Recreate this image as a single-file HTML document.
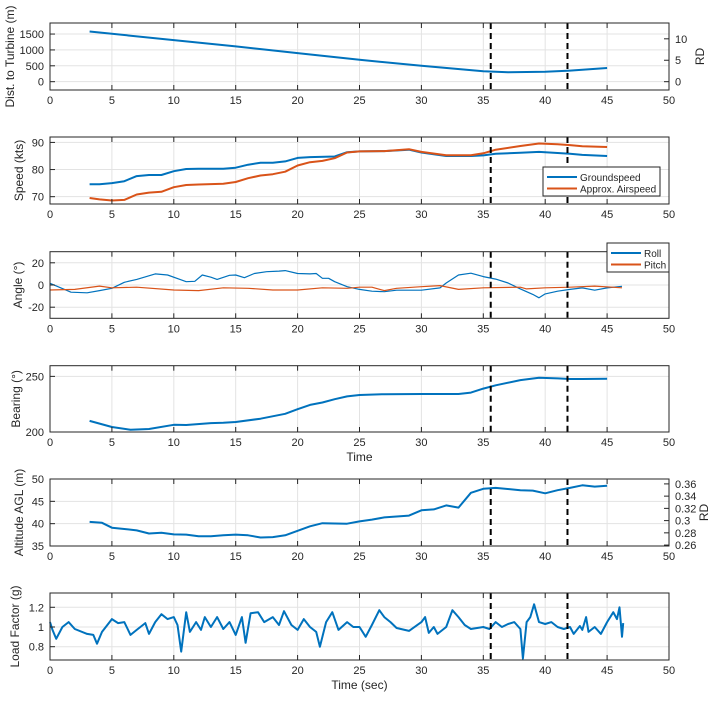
<!DOCTYPE html>
<html><head><meta charset="utf-8">
<style>
body{margin:0;background:#fff;}
svg{display:block;font-family:"Liberation Sans",sans-serif;}
</style></head>
<body>
<svg id="fig" width="718" height="701" viewBox="0 0 718 701" xmlns="http://www.w3.org/2000/svg"></svg>
<script>
const xTicks=[0,5,10,15,20,25,30,35,40,45,50];
const markerTimes=[35.6,41.8];
// Distance
const distT=[3.2,10,15,20,25,30,35,37,40,42,45];
const distV=[1580,1310,1110,900,690,500,330,300,310,350,430];
// Speed
const gsT=[3.2,4,5,6,7,8,9,10,11,12,14,15,16,17,18,19,20,21,23,24,25,27,29,30,32,34,35,36,38,39.5,41,42,43,45];
const gsV=[74.6,74.6,75,75.7,77.6,78,78,79.4,80.2,80.3,80.3,80.7,81.8,82.5,82.5,83,84.3,84.6,84.8,86.4,86.7,86.8,87.3,86.3,85,85,85.2,85.8,86.2,86.5,86.1,85.8,85.4,85.0];
const asT=[3.2,4,5,6,7,8,9,10,11,12,14,15,16,17,18,19,20,21,22,23,24,25,27,29,30,32,34,35,36,38,39.5,41,42,43,45];
const asV=[69.5,69,68.6,68.8,70.8,71.5,71.8,73.5,74.3,74.5,74.8,75.4,76.8,77.8,78.3,79.2,81.5,82.7,83.2,84.2,86.3,86.7,86.8,87.5,86.5,85.3,85.3,86,87.3,88.7,89.6,89.3,89,88.6,88.3];
// Angles
const rollT=[0,1.7,3,4,5,6,7,8.5,9.5,10.5,11,11.7,12.3,13,13.5,14.5,15,15.7,16.5,17.5,18.5,19,20,21,21.5,22,22.5,23,24,25,26,27,28,30,31.5,32,33,34,35,36,37,38,39,39.5,40,41,42,43,44,45,46.2];
const rollV=[1.5,-6.5,-7,-5,-3,2.4,5,10,9,5,3,3.3,9,7,5,8.7,9,6.6,10.4,12,12.5,13,10.4,10,10.4,6,6,3,-1.5,-4,-5.6,-6,-4.7,-4.7,-2.6,1.8,9,10.6,7.6,5.3,1.8,-3.5,-8.5,-11.5,-8,-5.6,-4,-2.6,-4.7,-2.6,-1.2];
const pitchT=[0,2,4,5,7,10,12,14,16,18,20,22,24,25,26,27,28,30,31.5,33,35,38,38.5,40,42,44,46.2];
const pitchV=[-4.5,-4,-1,-2.5,-2,-4.5,-5,-2.5,-3,-4.5,-4.5,-2.5,-3,-2,-2,-5,-3,-1.5,-0.5,-4,-2.5,-2,-3.5,-2.5,-2,-1,-2.5];
// Bearing
const brgT=[3.2,5,6.5,8,10,11,13,14,15,17,19,20,21,22,23,24,25,27,30,33,34,35,36,38,39.5,41,42,43,45];
const brgV=[210,204.5,202,202.7,206.5,206.3,208,208.3,209,212,216.4,220.5,224.4,226.5,229.5,232,233.3,234,234.2,234.2,235.4,239,242,246.7,248.8,248.2,247.6,247.6,247.9];
// Altitude
const altT=[3.2,4.2,5,6,7,8,9,10,11,12,13,14,15,16,17,18,19,20,21,22,24,25,26,27,29,30,31,32,33,34,35,36,38,39,40,41,42,43,44,45];
const altV=[40.4,40.2,39.1,38.8,38.5,37.8,37.95,37.6,37.55,37.2,37.2,37.4,37.55,37.4,36.9,37,37.4,38.4,39.4,40.1,40,40.5,40.9,41.4,41.8,43,43.2,44.1,43.6,46.9,47.8,48,47.5,47.4,46.8,47.5,48,48.6,48.3,48.5];
// Load factor
const nzT=[0,0.2,0.5,1,1.5,2,3,3.5,3.8,4.2,5,5.5,6,6.5,7,7.7,8,8.5,9,9.5,10,10.3,10.6,11,11.3,11.8,12.2,12.5,13,13.5,14,14.5,15,15.5,15.8,16.2,16.8,17.3,18,18.5,18.9,19.5,20,20.5,21,21.5,21.8,22.3,22.8,23.3,24,24.5,25,25.5,26,26.6,27,27.5,28,29,30,30.3,30.6,31,31.3,32,32.5,33,33.5,34,35,35.5,36,36.5,37,37.5,38,38.2,38.5,38.8,39.1,39.5,40,40.5,41,41.5,42,42.3,42.8,43,43.3,43.5,44,44.5,45,45.5,45.8,46,46.2,46.3];
const nzV=[1.05,0.97,0.88,1.0,1.05,0.98,0.93,0.92,0.83,0.95,1.08,1.04,1.05,0.92,0.97,1.04,0.93,1.05,1.13,1.08,1.1,1.02,0.75,1.15,0.95,1.05,0.97,1.1,1.0,1.1,0.98,1.05,0.92,1.1,0.84,1.14,1.15,1.05,1.1,1.02,1.16,1.02,0.97,1.08,1.0,0.95,0.8,1.05,1.15,0.97,1.05,1.0,1.0,0.9,1.02,1.17,1.1,1.05,0.99,0.96,1.05,1.1,0.94,1.0,0.93,1.0,1.17,1.1,1.02,0.98,1.0,0.98,1.05,1.0,1.03,1.05,0.98,0.68,1.05,1.1,1.23,1.05,1.03,1.05,1.0,0.98,1.0,0.93,1.01,0.97,1.1,0.95,1.0,0.93,1.05,1.15,1.08,1.2,0.9,1.04];

const NS="http://www.w3.org/2000/svg";
const svg=document.getElementById('fig');
const X0=50,X1=669;
function el(tag,attrs,parent){const e=document.createElementNS(NS,tag);for(const k in attrs)e.setAttribute(k,attrs[k]);(parent||svg).appendChild(e);return e;}
function sx(t){return X0+(t-0)/(50-0)*(X1-X0);}

function makeAxes(name,top,bot,ymin,ymax,yticks,ylabel,ylabelX,xlabel){
  const g=el('g',{});
  
  
  const sy=v=>bot-(v-ymin)/(ymax-ymin)*(bot-top);
  xTicks.forEach(t=>{const l=el('line',{x1:sx(t),x2:sx(t),y1:top,y2:bot,stroke:'#e3e3e3','stroke-width':1},g);});
  yticks.forEach(v=>{const l=el('line',{x1:X0,x2:X1,y1:sy(v),y2:sy(v),stroke:'#e3e3e3','stroke-width':1},g);});
  return {g,sy,top,bot,finish(){
    const r=el('rect',{x:X0,y:top,width:X1-X0,height:bot-top,fill:'none',stroke:'#262626','stroke-width':1},g);
    
    xTicks.forEach(t=>{
      el('line',{x1:sx(t),x2:sx(t),y1:bot,y2:bot-5,stroke:'#262626'},g);
      el('line',{x1:sx(t),x2:sx(t),y1:top,y2:top+5,stroke:'#262626'},g);
      const tx=el('text',{x:sx(t),y:bot+14,'font-size':11,'text-anchor':'middle',fill:'#262626'},g);tx.textContent=t;
      
    });
    yticks.forEach(v=>{
      el('line',{x1:X0,x2:X0+5,y1:sy(v),y2:sy(v),stroke:'#262626'},g);
      const tx=el('text',{x:X0-6,y:sy(v)+4,'font-size':11,'text-anchor':'end',fill:'#262626'},g);tx.textContent=v;
      
    });
    const cy=(top+bot)/2;
    const yl=el('text',{x:ylabelX,y:cy,'font-size':12,'text-anchor':'middle',fill:'#262626',transform:`rotate(-90 ${ylabelX} ${cy})`},g);yl.textContent=ylabel;
    
    if(xlabel){const xl=el('text',{x:(X0+X1)/2,y:bot+29,'font-size':12,'text-anchor':'middle',fill:'#262626'},g);xl.textContent=xlabel;
      }
  }};
}
function line(ax,T,V,color,w,name){
  const d=T.map((t,i)=>(i?'L':'M')+sx(t).toFixed(1)+','+ax.sy(V[i]).toFixed(1)).join(' ');
  const p=el('path',{d,fill:'none',stroke:color,'stroke-width':w,'stroke-linejoin':'round'},ax.g);
  
  
}
function markers(ax){
  markerTimes.forEach(t=>{const l=el('line',{x1:sx(t),x2:sx(t),y1:ax.top,y2:ax.bot,stroke:'#000','stroke-width':2,'stroke-dasharray':'6,4'},ax.g);
    });
}
function rightAxis(ax,rmin,rmax,ticks,label,labX){
  const ry=v=>ax.bot-(v-rmin)/(rmax-rmin)*(ax.bot-ax.top);
  ticks.forEach(v=>{
    el('line',{x1:X1,x2:X1-5,y1:ry(v),y2:ry(v),stroke:'#262626'},ax.g);
    const tx=el('text',{x:X1+6,y:ry(v)+4,'font-size':11,fill:'#262626'},ax.g);tx.textContent=v;
    
  });
  const cy=(ax.top+ax.bot)/2;
  const t=el('text',{x:labX,y:cy,'font-size':12,'text-anchor':'middle',fill:'#262626',transform:`rotate(-90 ${labX} ${cy})`},ax.g);t.textContent=label;
  
}
function legend(ax,x,y,w,h,items,name){
  const g=el('g',{},ax.g);
  el('rect',{x,y,width:w,height:h,fill:'#fff',stroke:'#262626'},g);
  items.forEach((it,i)=>{const yy=y+8+i*(h-6)/items.length+2;
    el('line',{x1:x+4,x2:x+34,y1:yy,y2:yy,stroke:it[1],'stroke-width':2},g);
    const tx=el('text',{x:x+37,y:yy+4,'font-size':10,fill:'#262626'},g);tx.textContent=it[0];
    });
}
const BLUE='#0072bd',RED='#d95319';

// 1
let a=makeAxes('distance-plot',23,90,-262,1848,[0,500,1000,1500],'Dist. to Turbine (m)',14);
line(a,distT,distV,BLUE,2,'distance-line');markers(a);
rightAxis(a,-262/135,1848/135,[0,5,10],'RD',704);a.finish();
// 2
a=makeAxes('speed-plot',137,204,67.3,92,[70,80,90],'Speed (kts)',23);
line(a,gsT,gsV,BLUE,2,'groundspeed-line');line(a,asT,asV,RED,2,'airspeed-line');markers(a);a.finish();
legend(a,543,167,117,29,[['Groundspeed',BLUE],['Approx. Airspeed',RED]],'speed-legend');
// 3
a=makeAxes('angle-plot',251.7,318.3,-30,30,[-20,0,20],'Angle (°)',22);
line(a,rollT,rollV,BLUE,1.2,'roll-line');line(a,pitchT,pitchV,RED,1.2,'pitch-line');markers(a);a.finish();
legend(a,607,243,62,29,[['Roll',BLUE],['Pitch',RED]],'angle-legend');
// 4
a=makeAxes('bearing-plot',365.7,432,200,259.6,[200,250],'Bearing (°)',20,'Time');
line(a,brgT,brgV,BLUE,2,'bearing-line');markers(a);a.finish();
// 5
a=makeAxes('altitude-plot',479,546,35,50,[35,40,45,50],'Altitude AGL (m)',23);
line(a,altT,altV,BLUE,2,'altitude-line');markers(a);
rightAxis(a,0.2585,0.368,[0.26,0.28,0.3,0.32,0.34,0.36],'RD',708);a.finish();
// 6
a=makeAxes('load-factor-plot',593,660,0.665,1.345,[0.8,1,1.2],'Load Factor (g)',19,'Time (sec)');
line(a,nzT,nzV,BLUE,2,'load-factor-line');markers(a);a.finish();
</script>
</body></html>
